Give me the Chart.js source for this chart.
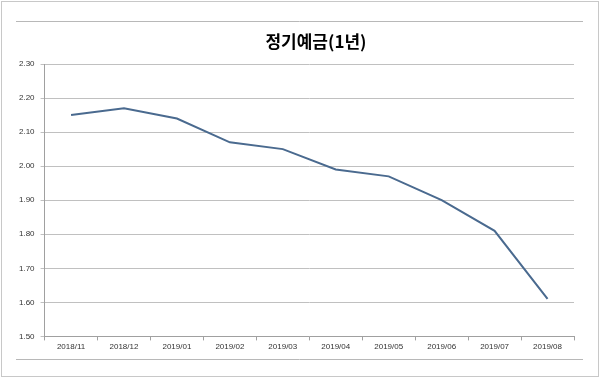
<!DOCTYPE html>
<html><head><meta charset="utf-8">
<script src="https://cdn.jsdelivr.net/npm/chart.js@4"></script>
<style>html,body{margin:0;padding:0;background:#fff}#w{position:relative;width:600px;height:378px}canvas{display:block}
#t{position:absolute;left:216px;width:200px;top:30px;text-align:center;font-family:"Noto Sans CJK KR";font-weight:bold;font-size:17px;line-height:22px;color:#000}</style>
</head><body><div id="w"><canvas id="c" width="600" height="378"></canvas><div id="t"></div></div>
<script>
const categories = ["2018/11","2018/12","2019/01","2019/02","2019/03","2019/04","2019/05","2019/06","2019/07","2019/08"];
const rates = [2.15,2.17,2.14,2.07,2.05,1.99,1.97,1.90,1.81,1.61];
const titleText = "정기예금(1년)";
const yMin = 1.5, yMax = 2.3, yStep = 0.1;
document.getElementById('t').textContent = titleText;

const framePlugin = {
  id:'frame',
  beforeDraw(chart){
    const ctx = chart.ctx;
    ctx.save();
    ctx.fillStyle='#fff';ctx.fillRect(0,0,600,378);
    ctx.strokeStyle='#c8c8c8';ctx.lineWidth=1;
    ctx.strokeRect(1.5,1.5,597,375);
    ctx.strokeStyle='#b8b8b8';
    ctx.beginPath();ctx.moveTo(16,21.5);ctx.lineTo(583,21.5);ctx.stroke();
    ctx.beginPath();ctx.moveTo(16,359.5);ctx.lineTo(583,359.5);ctx.stroke();
    ctx.restore();
  }
};

new Chart(document.getElementById('c'),{
  type:'line',
  data:{labels:categories,datasets:[{data:rates,borderColor:'#4a6a8f',borderWidth:2,pointRadius:0,tension:0,fill:false}]},
  options:{
    responsive:false,animation:false,
    layout:{padding:{left:13,right:26,top:64,bottom:24}},
    plugins:{legend:{display:false},tooltip:{enabled:false},title:{display:false}},
    scales:{
      x:{type:'category',offset:true,
        grid:{offset:true,drawOnChartArea:false,drawTicks:true,tickLength:4,color:'#a0a0a0'},
        border:{color:'#a0a0a0'},
        ticks:{color:'#333',font:{family:'"Liberation Sans"',size:8},padding:2,maxRotation:0}},
      y:{min:yMin,max:yMax,
        grid:{color:'#c0c0c0',tickLength:4},
        border:{color:'#a0a0a0'},
        ticks:{stepSize:yStep,color:'#333',font:{family:'"Liberation Sans"',size:8},padding:6,callback:v=>v.toFixed(2)}}
    }
  },
  plugins:[framePlugin]
});
</script></body></html>
